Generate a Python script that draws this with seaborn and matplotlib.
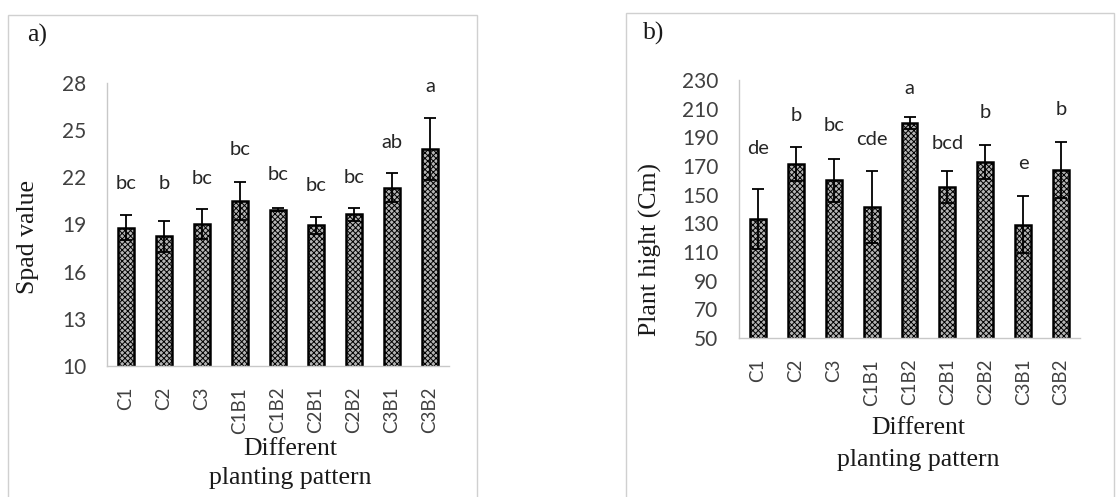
import matplotlib
matplotlib.use("Agg")
import matplotlib.pyplot as plt
import seaborn as sns
import pandas as pd
import numpy as np
from matplotlib.patches import Rectangle

# data
treatments = ["C1", "C2", "C3", "C1B1", "C1B2", "C2B1", "C2B2", "C3B1", "C3B2"]
spad_mean = [18.8, 18.25, 19.05, 20.5, 19.95, 18.95, 19.65, 21.35, 23.8]
spad_err = [0.8, 1.0, 0.95, 1.2, 0.1, 0.55, 0.4, 0.9, 1.95]
spad_letters = ["bc", "b", "bc", "bc", "bc", "bc", "bc", "ab", "a"]
spad_letter_y = [21.6, 21.6, 21.9, 23.8, 22.2, 21.5, 22.0, 24.2, 27.8]

height_mean = [132.8, 171.2, 160.0, 141.2, 200.0, 155.2, 172.6, 129.0, 167.2]
height_err = [21, 12, 15, 25, 4, 11, 12, 20, 19.5]
height_letters = ["de", "b", "bc", "cde", "a", "bcd", "b", "e", "b"]
height_letter_y = [182, 205.5, 198, 188.5, 224, 186, 207, 172, 209.5]

sns.set_style("white")
plt.rcParams["hatch.linewidth"] = 0.7

fig = plt.figure(figsize=(11.2, 4.97), dpi=100)

# panel frames
fig.patches.append(Rectangle((8 / 1120, -0.01), 469 / 1120, 1 - 15 / 497 + 0.01,
                             transform=fig.transFigure, fill=False,
                             edgecolor="#d0d0d0", linewidth=1))
fig.patches.append(Rectangle((626 / 1120, -0.01), 488 / 1120, 1 - 13 / 497 + 0.01,
                             transform=fig.transFigure, fill=False,
                             edgecolor="#d0d0d0", linewidth=1))

ax1 = fig.add_axes([107 / 1120, 1 - 366 / 497, 342 / 1120, 283 / 497])
ax2 = fig.add_axes([739 / 1120, 1 - 338 / 497, 341 / 1120, 258 / 497])

panels = [
    (ax1, spad_mean, spad_err, spad_letters, spad_letter_y, (10, 28), np.arange(10, 29, 3)),
    (ax2, height_mean, height_err, height_letters, height_letter_y, (50, 230), np.arange(50, 231, 20)),
]

for ax, mean, err, letters, ly, ylim, yticks in panels:
    df = pd.DataFrame({"treatment": treatments, "value": mean})
    sns.barplot(data=df, x="treatment", y="value", ax=ax, color="#b4b4b4",
                width=0.42, errorbar=None, edgecolor="black", linewidth=1.8,
                hatch="xxxxxx")
    ax.errorbar(range(len(treatments)), mean, yerr=err, fmt="none",
                ecolor="black", elinewidth=1.3, capsize=4.5, capthick=1.3)
    for i, (t, y) in enumerate(zip(letters, ly)):
        ax.text(i, y, t, ha="center", va="center", fontsize=14.5,
                family="Lato", color="#262626")
    ax.set_ylim(*ylim)
    ax.set_xlim(-0.5, len(treatments) - 0.5)
    ax.set_yticks(yticks)
    ax.set_xticks(np.arange(len(treatments)))
    ax.set_xticklabels(treatments, rotation=90, family="Lato", fontsize=13.5, color="#404040")
    ax.set_yticklabels([str(v) for v in yticks], family="Lato", fontsize=15, color="#404040")
    ax.set_xticks(np.arange(-0.5, len(treatments)), minor=True)
    ax.tick_params(axis="x", which="major", length=0, pad=15)
    ax.tick_params(axis="x", which="minor", length=5, color="#c8c8c8", direction="out")
    ax.tick_params(axis="y", length=5, color="#c8c8c8", direction="out", pad=10)
    for side in ["top", "right"]:
        ax.spines[side].set_visible(False)
    for side in ["left", "bottom"]:
        ax.spines[side].set_color("#c8c8c8")
        ax.spines[side].set_linewidth(1)
    ax.set_xlabel("")
    ax.set_ylabel("")

serif = dict(family="Liberation Serif", fontsize=18.5, color="#1a1a1a")

# axis titles and panel letters
fig.text(28 / 1120, 1 - 237 / 497, "Spad value", ha="center", va="center", rotation=90, **serif)
fig.text(650 / 1120, 1 - 249 / 497, "Plant hight (Cm)", ha="center", va="center", rotation=90, **serif)
fig.text(290 / 1120, 1 - 449 / 497, "Different", ha="center", va="center", **serif)
fig.text(290 / 1120, 1 - 478 / 497, "planting pattern", ha="center", va="center", **serif)
fig.text(918 / 1120, 1 - 428 / 497, "Different", ha="center", va="center", **serif)
fig.text(918 / 1120, 1 - 460 / 497, "planting pattern", ha="center", va="center", **serif)
fig.text(37 / 1120, 1 - 35 / 497, "a)", ha="center", va="center", **serif)
fig.text(654 / 1120, 1 - 33 / 497, "b)", ha="center", va="center", **serif)

fig.savefig("out.png", dpi=100)
